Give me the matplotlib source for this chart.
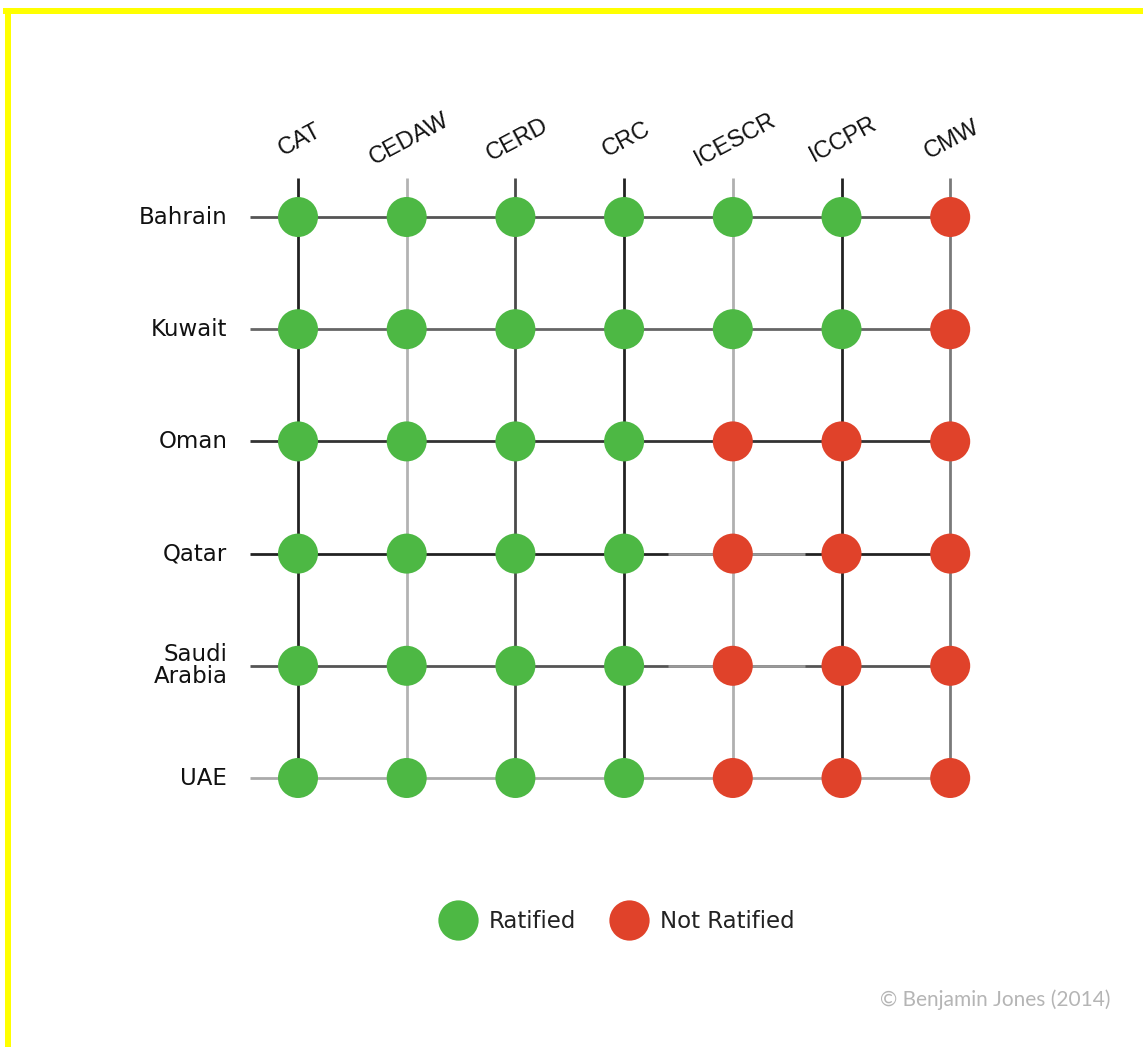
import matplotlib
matplotlib.use("Agg")
import matplotlib.pyplot as plt
from matplotlib.lines import Line2D
from matplotlib.patches import Rectangle

# ---------------- data ----------------
countries = ["Bahrain", "Kuwait", "Oman", "Qatar", "Saudi\nArabia", "UAE"]
treaties = ["CAT", "CEDAW", "CERD", "CRC", "ICESCR", "ICCPR", "CMW"]
# 1 = ratified, 0 = not ratified
status = [
    [1, 1, 1, 1, 1, 1, 0],  # Bahrain
    [1, 1, 1, 1, 1, 1, 0],  # Kuwait
    [1, 1, 1, 1, 0, 0, 0],  # Oman
    [1, 1, 1, 1, 0, 0, 0],  # Qatar
    [1, 1, 1, 1, 0, 0, 0],  # Saudi Arabia
    [1, 1, 1, 1, 0, 0, 0],  # UAE
]
legend_labels = ["Ratified", "Not Ratified"]
credit = "\u00a9 Benjamin Jones (2014)"

# ---------------- style ----------------
GREEN = "#4db844"
RED = "#e0422a"
col_line_colors = ["#222222", "#b3b3b3", "#4a4a4a", "#222222", "#b0b0b0", "#222222", "#7a7a7a"]
row_line_colors = ["#555555", "#666666", "#333333", "#222222", "#555555", "#aaaaaa"]

W, H = 1143, 1047
fig = plt.figure(figsize=(W / 100, H / 100), dpi=100)
fig.patch.set_facecolor("white")

# yellow frame (top and left edges)
fig.add_artist(Rectangle((3 / W, 1 - 14 / H), 1, 6 / H, transform=fig.transFigure,
                         facecolor="#ffff00", edgecolor="none"))
fig.add_artist(Rectangle((5 / W, 0), 6 / W, 1 - 8 / H, transform=fig.transFigure,
                         facecolor="#ffff00", edgecolor="none"))

# axes placement: column spacing ~108.7px, row spacing ~112.2px
x0_px, dx_px = 298, 108.7
y0_px, dy_px = 217, 112.2
left = (x0_px - 0.5 * dx_px) / W
width = 7 * dx_px / W
top_px = y0_px - 1.5 * dy_px
bot_px = y0_px + 6.5 * dy_px
ax = fig.add_axes([left, 1 - bot_px / H, width, (bot_px - top_px) / H])
ax.set_xlim(-0.5, 6.5)
ax.set_ylim(6.5, -1.5)
ax.axis("off")

n_rows = len(countries)
n_cols = len(treaties)

# vertical lines
for j in range(n_cols):
    ax.plot([j, j], [-0.35, n_rows - 1], color=col_line_colors[j], lw=2, zorder=1,
            solid_capstyle="butt")
# horizontal lines
for i in range(n_rows):
    ax.plot([-0.44, n_cols - 1], [i, i], color=row_line_colors[i], lw=2, zorder=1,
            solid_capstyle="butt")
# lighter segments around ICESCR in Qatar and Saudi Arabia rows
for i in (3, 4):
    ax.plot([3.4, 4.66], [i, i], color="#9a9a9a", lw=2, zorder=1.5, solid_capstyle="butt")

# dots
xs, ys, cs = [], [], []
for i, row in enumerate(status):
    for j, v in enumerate(row):
        xs.append(j)
        ys.append(i)
        cs.append(GREEN if v else RED)
ax.scatter(xs, ys, s=830, c=cs, edgecolors="none", zorder=3)

# column labels
for j, t in enumerate(treaties):
    ax.text(j + 0.02, -0.69, t, rotation=28, ha="center", va="center",
            fontsize=17, family="Liberation Sans", color="#111111")

# row labels
for i, c in enumerate(countries):
    ax.text(-0.65, i, c, ha="right", va="center", fontsize=16.5,
            family="DejaVu Sans", color="#111111", linespacing=0.95)

# legend
handles = [Line2D([], [], ls="none", marker="o", markersize=29, markerfacecolor=GREEN,
                  markeredgecolor="none"),
           Line2D([], [], ls="none", marker="o", markersize=29, markerfacecolor=RED,
                  markeredgecolor="none")]
fig.legend(handles, legend_labels, loc="center", bbox_to_anchor=(615 / W, 1 - 922 / H),
           ncol=2, frameon=False, handletextpad=0.35, columnspacing=1.3,
           prop={"family": "DejaVu Sans", "size": 16.5}, labelcolor="#222222")

# credit
fig.text(1110 / W, 1 - 1000 / H, credit, ha="right", va="center", fontsize=15,
         family="Lato", color="#b5b5b5")

fig.savefig("out.png", dpi=100, facecolor="white")
